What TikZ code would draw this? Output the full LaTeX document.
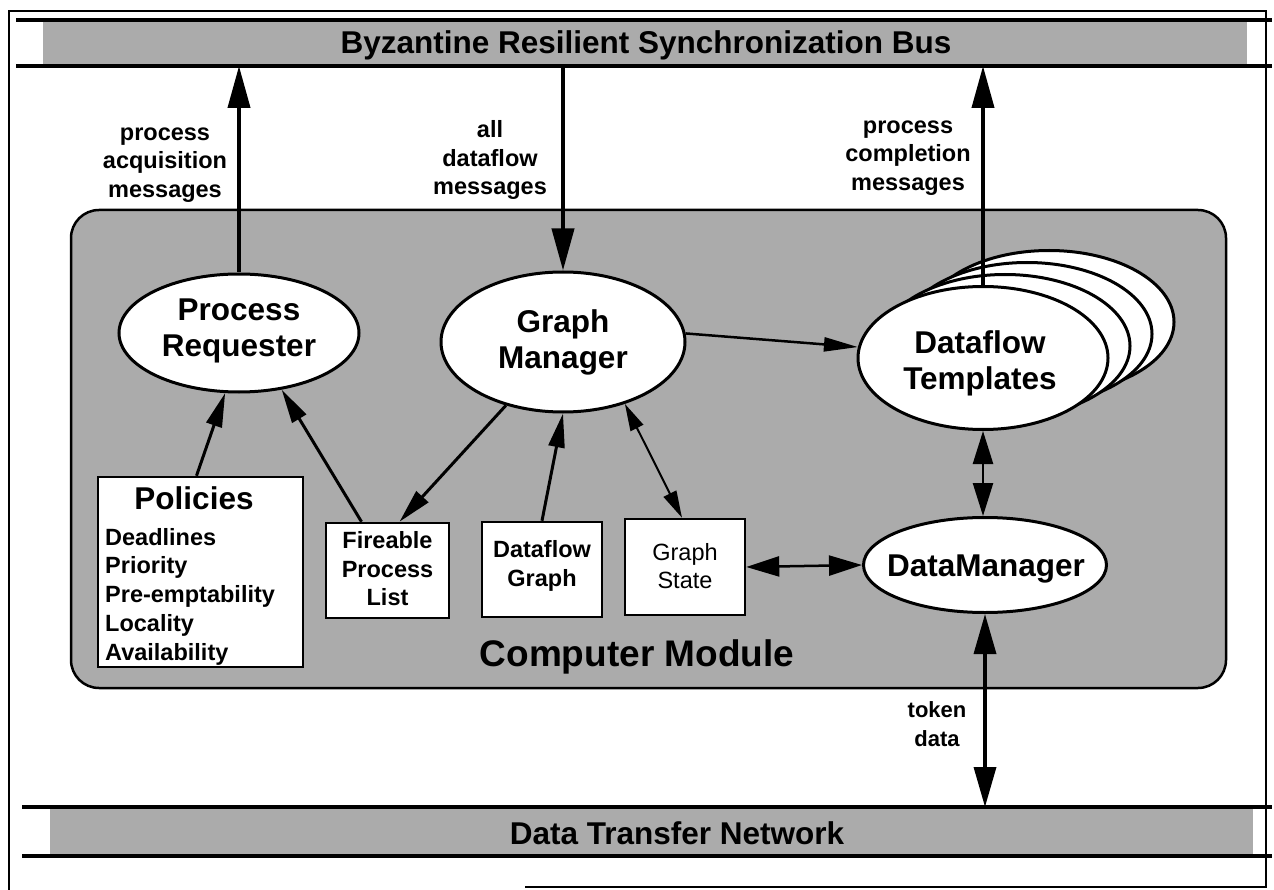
\documentclass[tikz,border=0pt]{standalone}
\usepackage{fontspec}
\setmainfont{Liberation Sans}
\usetikzlibrary{shapes.geometric,arrows.meta}
\newcommand\myfs[2]{\fontsize{#1}{#2}\selectfont}
\begin{document}
\begin{tikzpicture}[x=1pt,y=-1pt,
  halftone/.style={fill=black!33},
  band/.style={halftone, inner sep=0pt, outer sep=0pt},
  busline/.style={line width=4pt},
  frameline/.style={line width=2.5pt},
  ell/.style={ellipse, draw, line width=3pt, fill=white, inner sep=0pt},
  box/.style={rectangle, draw, line width=2.5pt, fill=white, inner sep=0pt},
  lbl/.style={font=\bfseries\myfs{31.5}{36}, align=center, inner sep=0pt},
  small/.style={font=\bfseries\myfs{23.5}{28.5}, align=center, inner sep=0pt},
  smallreg/.style={font=\myfs{23.5}{28.5}, align=center, inner sep=0pt},
  bustitle/.style={font=\bfseries\myfs{31.5}{36}, inner sep=0pt},
  bigarrow/.style={line width=4pt, -{Triangle[length=42pt,width=22pt]}},
  midarrow/.style={line width=3pt, -{Triangle[length=34pt,width=16pt]}},
  thinarrow/.style={line width=2.5pt, -{Triangle[length=34pt,width=14pt]}},
  dblsmall/.style={line width=2pt, {Triangle[length=27pt,width=14pt]}-{Triangle[length=27pt,width=14pt]}},
  dblmid/.style={line width=2.5pt, {Triangle[length=33pt,width=20pt]}-{Triangle[length=33pt,width=20pt]}},
  dblbig/.style={line width=3.5pt, {Triangle[length=40pt,width=22pt]}-{Triangle[length=40pt,width=22pt]}},
]
\useasboundingbox (0,0) rectangle (1274,890);
\fill[white] (0,0) rectangle (1274,890);

% outer frame
\draw[frameline] (9,890) -- (9,11) -- (1266,11) -- (1266,887) -- (525,887);

% top bus
\node[band, minimum width=1204pt, minimum height=46pt] (topbus) at (645,43) {};
\draw[busline] (16,20) -- (1272,20);
\draw[busline] (16,66) -- (1272,66);
\node[bustitle] (toptitle) at (646,45) {Byzantine Resilient Synchronization Bus};

% bottom bus
\node[band, minimum width=1203pt, minimum height=49pt] (botbus) at (651.5,831.5) {};
\draw[busline] (22,807) -- (1272,807);
\draw[busline] (22,856) -- (1272,856);
\node[bustitle] (bottitle) at (677,833) {Data Transfer Network};

% computer module
\node[draw, line width=2.5pt, halftone, rounded corners=28pt, minimum width=1155pt, minimum height=478pt] (module) at (648.5,449) {};
\node[font=\bfseries\myfs{37}{42}, inner sep=0pt] (modlbl) at (637,657) {Computer Module};

% ellipses
\node[ell, minimum width=240pt, minimum height=118pt] (pr) at (239,333) {};
\node[ell, minimum width=244pt, minimum height=140pt] (gm) at (563,342) {};
\foreach \k in {3,2,1}
  \node[ell, minimum width=250pt, minimum height=143pt] (tplb\k) at ({983+22*\k},{358-12*\k}) {};
\node[ell, minimum width=250pt, minimum height=143pt] (tpl) at (983,358) {};
\node[ell, minimum width=243pt, minimum height=95pt] (dm) at (985,565) {};

\node[lbl] (prl) at (239,331) {Process\\Requester};
\node[lbl] (gml) at (563,342) {Graph\\Manager};
\node[lbl] (tpll) at (980,363) {Dataflow\\Templates};
\node[lbl] (dml) at (986,569) {DataManager};

% boxes
\node[box, minimum width=205pt, minimum height=190pt] (pol) at (200.5,572) {};
\node[box, minimum width=123pt, minimum height=95pt] (fire) at (387.5,570.5) {};
\node[box, minimum width=120pt, minimum height=95pt] (dg) at (542,569.5) {};
\node[box, minimum width=120pt, minimum height=96pt] (gs) at (685,567) {};

\node[lbl] (poltitle) at (194,498) {Policies};
\node[small, align=left, anchor=west, font=\bfseries\myfs{23.5}{28.75}] (politems) at (105,596.5) {Deadlines\\Priority\\Pre-emptability\\Locality\\Availability};
\node[small] (firel) at (387.5,569) {Fireable\\Process\\List};
\node[small] (dgl) at (542,566) {Dataflow\\Graph};
\node[smallreg] (gsl) at (685,566) {Graph\\State};

% arrow labels
\node[small] (pam) at (165,165) {process\\acquisition\\messages};
\node[small] (adm) at (490,160) {all\\dataflow\\messages};
\node[small] (pcm) at (908,158) {process\\completion\\messages};
\node[font=\bfseries\myfs{22}{29}, align=center, inner sep=0pt] (tok) at (937,724) {token\\data};

% connectors
\draw[bigarrow] (pr.north) -- (pr.north |- topbus.south);
\draw[bigarrow] (gm.north |- topbus.south) -- (gm.north);
\draw[bigarrow] (tpl.north) -- (tpl.north |- topbus.south);
\draw[thinarrow] (gm.4) -- (tpl.175);
\draw[midarrow] ([xshift=-4pt]pol.north) -- (pr.257);
\draw[midarrow] ([xshift=-26pt]fire.north) -- (pr.307);
\draw[midarrow] (gm.228) -- ([xshift=12pt]fire.north);
\draw[midarrow] (dg.north) -- (gm.south);
\draw[dblsmall] (gm.315) -- ([xshift=-3pt]gs.north);
\draw[dblmid] (gs.east) -- (dm.west);
\draw[dblmid] (tpl.south) -- (tpl.south |- dm.north);
\draw[dblbig] (dm.south) -- (dm.south |- botbus.north);
\end{tikzpicture}
\end{document}
